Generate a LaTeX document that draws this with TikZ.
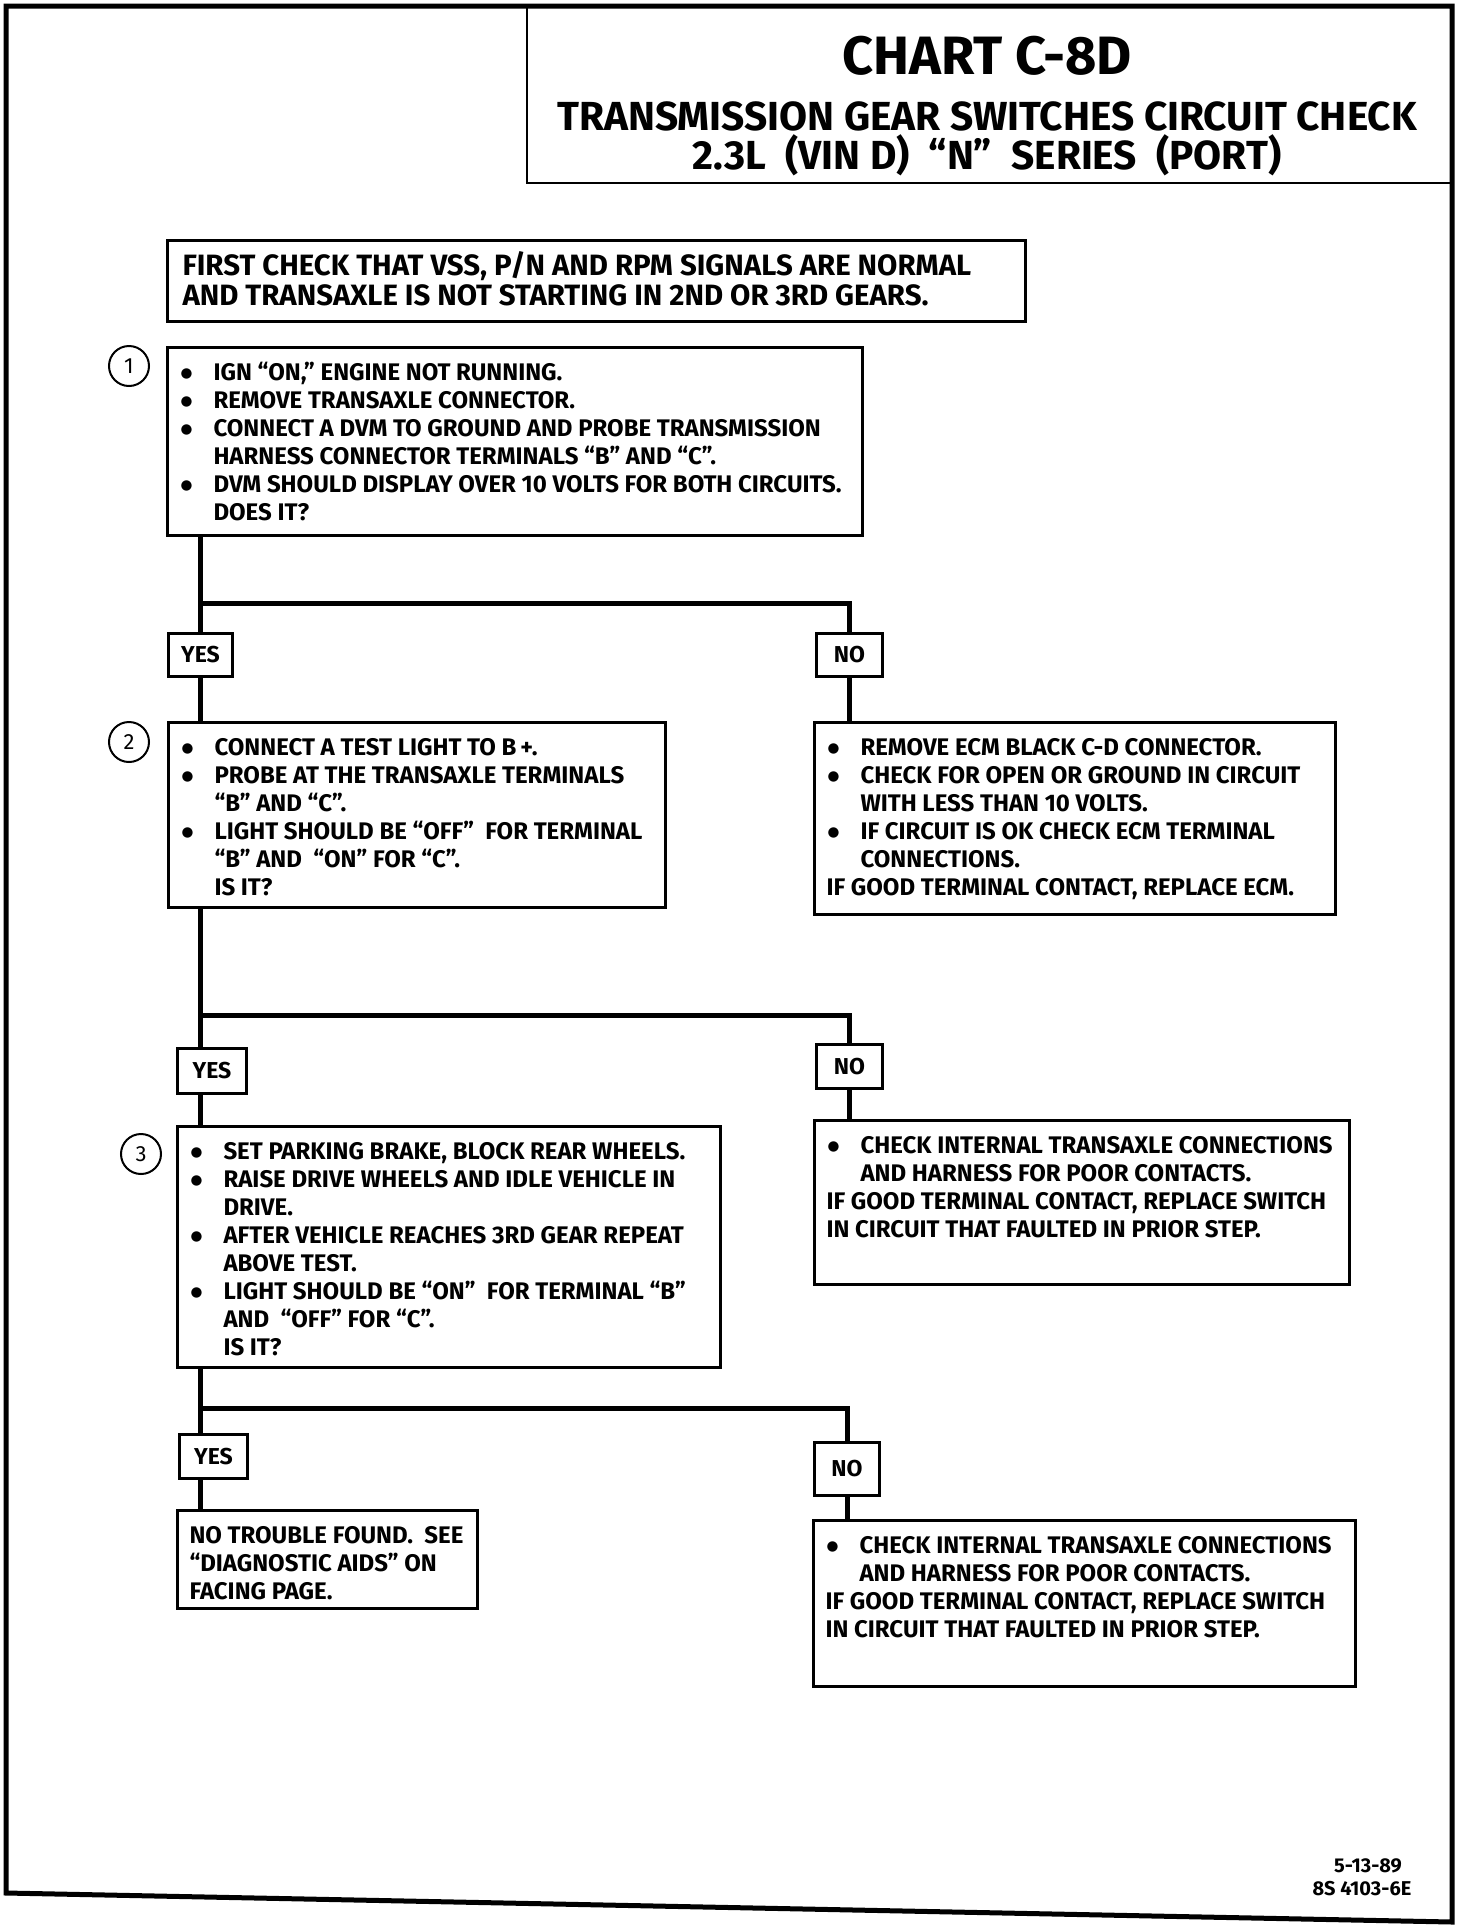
\documentclass[tikz,border=0pt]{standalone}
\usepackage{fontspec}
\setmainfont{Fira Sans}
\newfontfamily\symf{DejaVu Sans}
\newcommand\bodyf{\bfseries\fontsize{12}{14}\selectfont\raggedright}
\newcommand\bul{\raisebox{1.7pt}{\symf\fontsize{6.8}{6.8}\selectfont ●}}
\newcommand\itm[1]{\par\hangindent=17pt\hangafter=1\noindent\rule{0pt}{9pt}\makebox[17pt][l]{\hspace{0.6pt}\bul}#1}
\newcommand\pln[1]{\par\noindent\rule{0pt}{9pt}#1}
\begin{document}
\begin{tikzpicture}[x=0.5pt,y=-0.5pt,
  box/.style={draw, line width=1.5pt, anchor=north west, inner xsep=6pt, inner ysep=7.5pt},
  yn/.style={draw, line width=1.5pt, anchor=north west, inner sep=0pt, font=\bfseries\fontsize{11.5}{11.5}\selectfont},
  conn/.style={line width=2.5pt},
  num/.style={circle, draw, line width=1pt, minimum size=20pt, inner sep=0pt, font=\fontsize{11}{11}\selectfont},
  ttl/.style={font=\bfseries\fontsize{20.3}{20.3}\selectfont, anchor=base}]
\useasboundingbox (0,0) rectangle (1472,1928);
% page frame
\draw[line width=2.5pt] (6,1893) -- (6,6) -- (1452,6) -- (1452,1922) -- cycle;
% title
\node[draw, line width=1.2pt, anchor=north west, minimum width=463pt, minimum height=88pt, inner sep=0pt] (title) at (526,6) {};
\node[ttl, font=\bfseries\fontsize{27}{27}\selectfont] (t1) at (987,74) {CHART C-8D};
\node[ttl] (t2) at (987,130) {TRANSMISSION GEAR SWITCHES CIRCUIT CHECK};
\node[ttl] (t3) at (987,169) {2.3L\ \ (VIN D)\ \ “N”\ \ SERIES\ \ (PORT)};
% first check
\node[box, inner xsep=7.5pt, inner ysep=5.5pt] (fc) at (166,239) {\parbox[t][29.5pt][t]{414pt}{\bfseries\fontsize{14.7}{15}\selectfont\raggedright
 \pln{\mbox{FIRST CHECK THAT VSS, P/N AND RPM SIGNALS ARE NORMAL}}\\\mbox{AND TRANSAXLE IS NOT STARTING IN 2ND OR 3RD GEARS.}}};
% step 1
\node[num] (c1) at (129,366) {1};
\node[box] (b1) at (166,346) {\parbox[t][79pt][t]{335.5pt}{\bodyf
 \itm{\mbox{IGN “ON,” ENGINE NOT RUNNING.}}
 \itm{\mbox{REMOVE TRANSAXLE CONNECTOR.}}
 \itm{\mbox{CONNECT A DVM TO GROUND AND PROBE TRANSMISSION}\newline\mbox{HARNESS CONNECTOR TERMINALS “B” AND “C”.}}
 \itm{\mbox{DVM SHOULD DISPLAY OVER 10 VOLTS FOR BOTH CIRCUITS.}\newline\mbox{DOES\ IT?}}}};
\coordinate (tr) at (200,0);
\coordinate (br1) at (200,603);
\node[yn, minimum width=32pt, minimum height=21.5pt] (yes1) at (167,632) {YES};
\node[yn, minimum width=33pt, minimum height=21.5pt] (no1) at (815,632) {NO};
% step 2
\node[num] (c2) at (129,742) {2};
\node[box] (b2) at (167,721) {\parbox[t][77.5pt][t]{236.5pt}{\bodyf
 \itm{\mbox{CONNECT A TEST LIGHT TO B\,+.}}
 \itm{\mbox{PROBE AT THE TRANSAXLE TERMINALS}\newline\mbox{“B” AND “C”.}}
 \itm{\mbox{LIGHT SHOULD BE “OFF”\ \ FOR TERMINAL}\newline\mbox{“B” AND\ \ “ON” FOR “C”.}\newline\mbox{IS IT?}}}};
\node[box] (r1) at (813,721) {\parbox[t][81pt][t]{248.5pt}{\bodyf
 \itm{\mbox{REMOVE ECM BLACK C-D CONNECTOR.}}
 \itm{\mbox{CHECK FOR OPEN OR GROUND IN CIRCUIT}\newline\mbox{WITH LESS THAN 10 VOLTS.}}
 \itm{\mbox{IF CIRCUIT IS OK CHECK ECM TERMINAL}\newline\mbox{CONNECTIONS.}}
 \pln{\mbox{IF GOOD TERMINAL CONTACT, REPLACE ECM.}}}};
\coordinate (br2) at (200,1015);
\node[yn, minimum width=34.5pt, minimum height=22.5pt] (yes2) at (176,1047) {YES};
\node[yn, minimum width=33pt, minimum height=22pt] (no2) at (815,1043) {NO};
% step 3
\node[num] (c3) at (141,1154) {3};
\node[box] (b3) at (176,1125) {\parbox[t][105.5pt][t]{259.5pt}{\bodyf
 \itm{\mbox{SET PARKING BRAKE, BLOCK REAR WHEELS.}}
 \itm{\mbox{RAISE DRIVE WHEELS AND IDLE VEHICLE IN}\newline\mbox{DRIVE.}}
 \itm{\mbox{AFTER VEHICLE REACHES 3RD GEAR REPEAT}\newline\mbox{ABOVE TEST.}}
 \itm{\mbox{LIGHT SHOULD BE “ON”\ \ FOR TERMINAL “B”}\newline\mbox{AND\ \ “OFF” FOR “C”.}\newline\mbox{IS IT?}}}};
\node[box] (r2) at (813,1119) {\parbox[t][67pt][t]{255.5pt}{\bodyf
 \itm{\mbox{CHECK INTERNAL TRANSAXLE CONNECTIONS}\newline\mbox{AND HARNESS FOR POOR CONTACTS.}}
 \pln{\mbox{IF GOOD TERMINAL CONTACT, REPLACE SWITCH}}\\\mbox{IN CIRCUIT THAT FAULTED IN PRIOR STEP.}}};
\coordinate (br3) at (200,1408);
\node[yn, minimum width=34pt, minimum height=22pt] (yes3) at (178,1433) {YES};
\node[yn, minimum width=32.5pt, minimum height=26.5pt] (no3) at (813,1441) {NO};
% final
\node[box] (fy) at (176,1509) {\parbox[t][34pt][t]{138pt}{\bodyf
 \pln{\mbox{NO TROUBLE FOUND.\ \ SEE}}\\\mbox{“DIAGNOSTIC AIDS” ON}\\\mbox{FACING PAGE.}}};
\node[box] (fn) at (812,1519) {\parbox[t][68pt][t]{259pt}{\bodyf
 \itm{\mbox{CHECK INTERNAL TRANSAXLE CONNECTIONS}\newline\mbox{AND HARNESS FOR POOR CONTACTS.}}
 \pln{\mbox{IF GOOD TERMINAL CONTACT, REPLACE SWITCH}}\\\mbox{IN CIRCUIT THAT FAULTED IN PRIOR STEP.}}};
% connectors
\draw[conn] (tr |- b1.south) -- (tr |- yes1.north);
\draw[conn] (br1) -| (no1.north);
\draw[conn] (tr |- yes1.south) -- (tr |- b2.north);
\draw[conn] (no1.south) -- (no1.south |- r1.north);
\draw[conn] (tr |- b2.south) -- (tr |- yes2.north);
\draw[conn] (br2) -| (no2.north);
\draw[conn] (tr |- yes2.south) -- (tr |- b3.north);
\draw[conn] (no2.south) -- (no2.south |- r2.north);
\draw[conn] (tr |- b3.south) -- (tr |- yes3.north);
\draw[conn] (br3) -| (no3.north);
\draw[conn] (tr |- yes3.south) -- (tr |- fy.north);
\draw[conn] (no3.south) -- (no3.south |- fn.north);
% footer
\node[font=\bfseries\fontsize{10}{10}\selectfont, anchor=base] (d1) at (1368,1872) {5-13-89};
\node[font=\bfseries\fontsize{10}{10}\selectfont, anchor=base] (d2) at (1362,1895) {8S 4103-6E};
\end{tikzpicture}
\end{document}
